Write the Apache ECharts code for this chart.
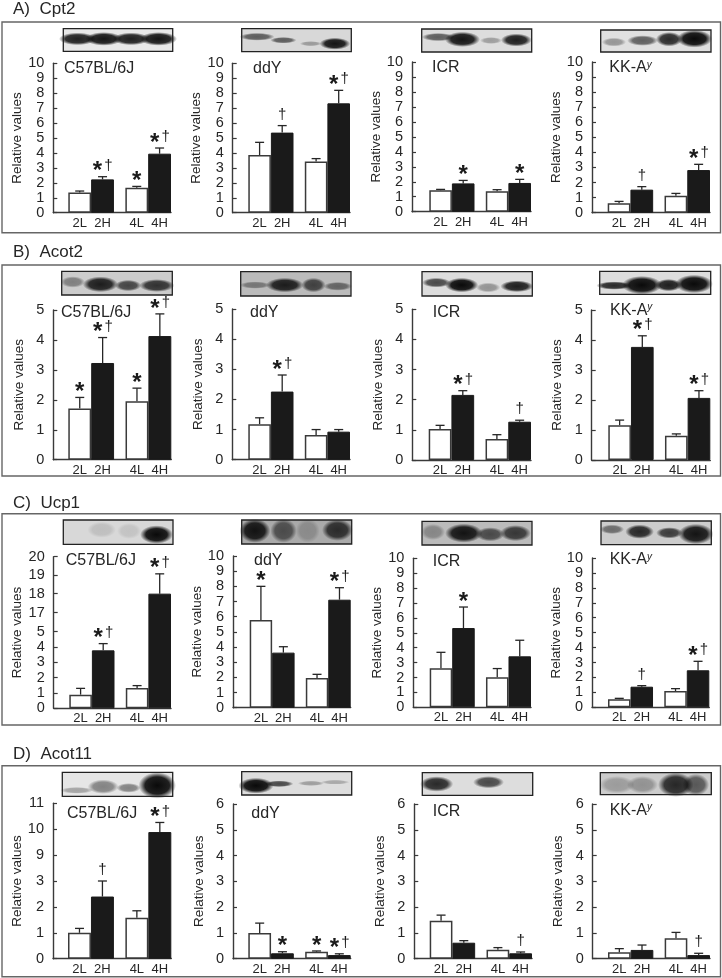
<!DOCTYPE html>
<html><head><meta charset="utf-8">
<style>html,body{margin:0;padding:0;background:#fff}#c{width:722px;height:978px}</style>
<script src="https://cdn.jsdelivr.net/npm/echarts@6/dist/echarts.min.js"></script>
</head><body><div id="c"></div>
<script>
// ---- data: tick labels
const barLabels = ['2L','2H','4L','4H'];
const ticks10 = [0,1,2,3,4,5,6,7,8,9,10];
const ticks5 = [0,1,2,3,4,5];
const ticks6 = [0,1,2,3,4,5,6];
const ticksUcpC57 = [0,1,2,3,4,5,17,18,19,20];
const posUcpC57 = [0,1,2,3,4,5,6.24,7.48,8.70,9.89];
const ticksAcotC57 = [0,1,2,3,9,10,11];
const posAcotC57 = [0,1,2,3,4,5,6];
// ---- data: means and error-bar tops, order 2L 2H 4L 4H
const cpt2_C57 = [1.36,2.23,1.67,3.95],  cpt2_C57_top = [1.45,2.41,1.76,4.33];
const cpt2_ddY = [3.86,5.36,3.42,7.32],  cpt2_ddY_top = [4.71,5.83,3.62,8.19];
const cpt2_ICR = [1.43,1.89,1.36,1.92],  cpt2_ICR_top = [1.49,2.09,1.47,2.16];
const cpt2_KK  = [0.62,1.53,1.13,2.83],  cpt2_KK_top  = [0.75,1.73,1.28,3.21];
const acot2_C57 = [1.71,3.23,1.95,4.13], acot2_C57_top = [2.08,4.08,2.39,4.87];
const acot2_ddY = [1.18,2.26,0.82,0.93], acot2_ddY_top = [1.39,2.81,1.00,1.00];
const acot2_ICR = [1.03,2.16,0.70,1.27], acot2_ICR_top = [1.15,2.30,0.84,1.32];
const acot2_KK  = [1.16,3.77,0.81,2.07], acot2_KK_top  = [1.33,4.14,0.87,2.31];
const ucp1_C57 = [0.89,3.78,1.33,18.0],  ucp1_C57_top = [1.30,4.22,1.48,19.06];
const ucp1_ddY = [5.78,3.63,1.96,7.12],  ucp1_ddY_top = [8.00,4.02,2.20,7.91];
const ucp1_ICR = [2.62,5.32,2.01,3.42],  ucp1_ICR_top = [3.69,6.73,2.60,4.50];
const ucp1_KK  = [0.54,1.38,1.09,2.48],  ucp1_KK_top  = [0.60,1.45,1.25,3.08];
const acot11_C57 = [1.00,2.40,1.58,9.89], acot11_C57_top = [1.17,3.00,1.85,10.26];
const acot11_ddY = [1.00,0.21,0.27,0.14], acot11_ddY_top = [1.38,0.27,0.30,0.19];
const acot11_ICR = [1.47,0.62,0.35,0.21], acot11_ICR_top = [1.69,0.70,0.43,0.26];
const acot11_KK  = [0.25,0.34,0.79,0.14], acot11_KK_top  = [0.39,0.53,1.02,0.21];
// ---- significance marks
const cpt2_marks = [['','*†','*','*†'],['','†','','*†'],['','*','','*'],['','†','','*†']];
const acot2_marks = [['*','*†','*','*†'],['','*†','',''],['','*†','','†'],['','*†','','*†']];
const ucp1_marks = [['','*†','','*†'],['*','','','*†'],['','*','',''],['','†','','*†']];
const acot11_marks = [['','†','','*†'],['','*','*','*†'],['','','','†'],['','','','†']];
const strains = ['C57BL/6J','ddY','ICR','KK-A'];

// ---- western-blot band decoration: [cx, cy, halfW, halfH, alpha] as fractions of the blot
const blots = [
 ['#e8e8e8',[[.13,.45,.17,.28,.9],[.37,.45,.17,.3,.95],[.62,.45,.17,.28,.9],[.87,.45,.17,.3,.95]]],
 ['#d8d8d8',[[.14,.35,.16,.17,.6],[.38,.5,.12,.14,.6],[.63,.65,.1,.11,.3],[.85,.65,.14,.26,.95]]],
 ['#dddddd',[[.15,.35,.15,.18,.6],[.37,.45,.16,.33,.95],[.63,.5,.1,.15,.3],[.86,.48,.14,.28,.9]]],
 ['#e0e0e0',[[.12,.55,.11,.2,.35],[.38,.48,.14,.24,.6],[.62,.42,.12,.33,.85],[.85,.4,.16,.4,1]]],
 ['#cccccc',[[.1,.45,.11,.24,.4],[.35,.55,.16,.33,.9],[.6,.6,.12,.24,.7],[.86,.6,.16,.27,.8]]],
 ['#bbbbbb',[[.13,.55,.14,.15,.4],[.4,.55,.17,.3,.9],[.66,.55,.11,.3,.7],[.88,.6,.13,.18,.5]]],
 ['#dddddd',[[.13,.45,.13,.2,.7],[.36,.55,.15,.3,1],[.6,.65,.11,.2,.35],[.86,.6,.15,.24,.9]]],
 ['#dddddd',[[.13,.62,.16,.18,.85],[.38,.6,.18,.4,1],[.62,.6,.12,.27,.9],[.85,.55,.17,.4,1]]],
 ['#d8d8d8',[[.35,.4,.13,.33,.12],[.6,.45,.11,.33,.1],[.85,.6,.15,.38,1]]],
 ['#aaaaaa',[[.12,.45,.14,.5,.95],[.38,.45,.12,.5,.6],[.6,.45,.11,.5,.2],[.87,.42,.14,.45,.8]]],
 ['#bbbbbb',[[.1,.45,.11,.34,.3],[.38,.5,.17,.4,.95],[.62,.55,.13,.3,.65],[.85,.5,.14,.34,.75]]],
 ['#cccccc',[[.1,.35,.11,.2,.5],[.35,.45,.13,.3,.85],[.62,.5,.12,.24,.75],[.86,.55,.16,.43,.95]]],
 ['#e6e6e6',[[.13,.75,.15,.14,.3],[.37,.6,.14,.3,.45],[.6,.65,.11,.2,.45],[.86,.55,.17,.55,1]]],
 ['#dddddd',[[.13,.6,.16,.34,1],[.34,.52,.13,.14,.7],[.63,.5,.12,.11,.3],[.85,.45,.13,.1,.25]]],
 ['#dddddd',[[.13,.5,.15,.34,.85],[.6,.42,.14,.27,.7]]],
 ['#cccccc',[[.15,.55,.16,.4,.25],[.38,.55,.14,.4,.3],[.68,.55,.16,.55,.85],[.86,.55,.12,.5,.6]]]
];

// ---- page layout (pixels)
const sections = [
 {title:'A)  Cpt2', ty:9, frame:[22,232.7], marks:cpt2_marks, panels:[
  {m:cpt2_C57,t:cpt2_C57_top,ticks:ticks10,ax:53.3,b0:68.3,b1:171,y0:212.7,yt:63.3,blot:[63.3,172.7,28.7,51.3],lx:64,ly:69},
  {m:cpt2_ddY,t:cpt2_ddY_top,ticks:ticks10,ax:232.7,b0:248.3,b1:350,y0:212.7,yt:63.3,blot:[241.7,351.3,28.7,51.7],lx:253,ly:69},
  {m:cpt2_ICR,t:cpt2_ICR_top,ticks:ticks10,ax:412,b0:429.3,b1:531,y0:211.7,yt:62,blot:[421.7,531.7,29,52],lx:432,ly:68},
  {m:cpt2_KK,t:cpt2_KK_top,ticks:ticks10,ax:592,b0:607.7,b1:710,y0:212.7,yt:62,blot:[600.7,711,30,52],lx:609.3,ly:68}]},
 {title:'B)  Acot2', ty:252.7, frame:[265,476], marks:acot2_marks, panels:[
  {m:acot2_C57,t:acot2_C57_top,ticks:ticks5,ax:53.3,b0:68.3,b1:171.3,y0:459.7,yt:310,blot:[61.7,172.3,271.3,295],lx:61,ly:312.7},
  {m:acot2_ddY,t:acot2_ddY_top,ticks:ticks5,ax:232.3,b0:248.3,b1:350,y0:459.7,yt:309,blot:[240.7,351,271.7,296],lx:250,ly:313},
  {m:acot2_ICR,t:acot2_ICR_top,ticks:ticks5,ax:412.3,b0:428.7,b1:531,y0:460,yt:309.3,blot:[422,532.3,271.7,296],lx:432.7,ly:312.3},
  {m:acot2_KK,t:acot2_KK_top,ticks:ticks5,ax:591.7,b0:608.3,b1:710.3,y0:460,yt:310,blot:[599.7,710.7,271.3,294.3],lx:610,ly:310.7}]},
 {title:'C)  Ucp1', ty:503, frame:[513.7,725], marks:ucp1_marks, panels:[
  {m:ucp1_C57,t:ucp1_C57_top,ticks:ticksUcpC57,pos:posUcpC57,ax:53.7,b0:69.3,b1:171,y0:708.3,yt:556.7,blot:[63.3,173,520,544.3],lx:65.7,ly:560.7},
  {m:ucp1_ddY,t:ucp1_ddY_top,ticks:ticks10,ax:233,b0:249.7,b1:350.7,y0:707.7,yt:556,blot:[241.7,351.7,520,544],lx:254,ly:560.7},
  {m:ucp1_ICR,t:ucp1_ICR_top,ticks:ticks10,ax:413.3,b0:429.7,b1:531,y0:707.3,yt:558.3,blot:[422,532,521.3,545],lx:432.7,ly:561.7},
  {m:ucp1_KK,t:ucp1_KK_top,ticks:ticks10,ax:592,b0:608,b1:709.3,y0:707.3,yt:558,blot:[601,711.3,521,544.7],lx:609.7,ly:560}]},
 {title:'D)  Acot11', ty:754, frame:[765.7,976.7], marks:acot11_marks, panels:[
  {m:acot11_C57,t:acot11_C57_top,ticks:ticksAcotC57,pos:posAcotC57,ax:53,b0:68,b1:171.3,y0:958.7,yt:803.3,blot:[62.3,172.7,772.3,796.3],lx:67,ly:814},
  {m:acot11_ddY,t:acot11_ddY_top,ticks:ticks6,ax:233,b0:248.3,b1:350.7,y0:958.7,yt:804,blot:[241.7,351.7,771.7,795],lx:251.3,ly:814},
  {m:acot11_ICR,t:acot11_ICR_top,ticks:ticks6,ax:414.3,b0:429.7,b1:532,y0:958.7,yt:804,blot:[422.3,532.7,772.7,795.3],lx:432.7,ly:811.3},
  {m:acot11_KK,t:acot11_KK_top,ticks:ticks6,ax:592.7,b0:608,b1:710,y0:958.7,yt:804,blot:[600.3,711.3,772.7,794.7],lx:609.7,ly:810.7}]}
];

const FONT = '"Liberation Sans", Arial, sans-serif';
const INK = '#262626', AXIS = '#3a3a3a';
const barX = [1,2,3.5,4.5];

function warp(v, ticks, pos){
  if(!pos) return v;
  for(let i=1;i<ticks.length;i++){
    if(v<=ticks[i]) return pos[i-1]+(v-ticks[i-1])/(ticks[i]-ticks[i-1])*(pos[i]-pos[i-1]);
  }
  return pos[pos.length-1];
}

const grids=[],xAxes=[],yAxes=[],series=[],graphics=[];
sections.forEach((s,si)=>{
  graphics.push({type:'rect',z:0,shape:{x:2,y:s.frame[0],width:718.5,height:s.frame[1]-s.frame[0]},
    style:{fill:'none',stroke:'#666',lineWidth:1.4},silent:true});
  graphics.push({type:'text',z:5,x:13,y:s.ty,style:{text:s.title,font:'17px '+FONT,fill:INK,textVerticalAlign:'middle'},silent:true});
  s.panels.forEach((p,pi)=>{
    const gi=grids.length, unit=(p.b1-p.b0)/4.5, xMin=0.5-(p.b0-p.ax)/unit;
    const pos=p.pos||p.ticks, W=v=>warp(v,p.ticks,p.pos);
    grids.push({left:p.ax,top:p.yt,width:p.b1-p.ax,height:p.y0-p.yt,containLabel:false});
    xAxes.push({type:'value',gridIndex:gi,min:xMin,max:5,splitLine:{show:false},
      axisLine:{show:true,onZero:false,lineStyle:{color:AXIS,width:1.4}},axisTick:{show:false},
      axisLabel:{customValues:barX,margin:4,fontFamily:FONT,fontSize:13,color:INK,hideOverlap:false,
        formatter:v=>barLabels[barX.indexOf(v)]}});
    yAxes.push({type:'value',gridIndex:gi,min:0,max:pos[pos.length-1],splitLine:{show:false},
      name:'Relative values',nameLocation:'middle',nameGap:27,
      nameTextStyle:{fontFamily:FONT,fontSize:13.5,color:INK},
      axisLine:{show:true,onZero:false,lineStyle:{color:AXIS,width:1.4}},
      axisTick:{show:true,inside:true,length:4,customValues:pos,lineStyle:{color:AXIS,width:1.2}},
      axisLabel:{customValues:pos,margin:9,fontFamily:FONT,fontSize:14.5,color:INK,hideOverlap:false,
        formatter:v=>String(p.ticks[pos.findIndex(q=>Math.abs(q-v)<1e-6)])}});
    const barBase={type:'bar',xAxisIndex:gi,yAxisIndex:gi,barWidth:unit,barGap:'-100%',animation:false,silent:true};
    series.push(Object.assign({},barBase,{name:'L',z:3,itemStyle:{color:'#fff',borderColor:'#3a3a3a',borderWidth:1.5},
      data:[[barX[0],W(p.m[0])],[barX[2],W(p.m[2])]]}));
    series.push(Object.assign({},barBase,{name:'H',z:3,itemStyle:{color:'#1a1a1a',borderColor:'#1a1a1a',borderWidth:1},
      data:[[barX[1],W(p.m[1])],[barX[3],W(p.m[3])]]}));
    // error bars
    series.push({type:'custom',xAxisIndex:gi,yAxisIndex:gi,z:2,silent:true,animation:false,
      data:barX.map((x,i)=>[x,W(p.m[i]),W(p.t[i])]),
      renderItem:(params,api)=>{
        const a=api.coord([api.value(0),api.value(1)]), b=api.coord([api.value(0),api.value(2)]);
        const st={stroke:'#262626',lineWidth:1.3,fill:'none'};
        return {type:'group',children:[
          {type:'line',shape:{x1:a[0],y1:a[1],x2:b[0],y2:b[1]},style:st},
          {type:'line',shape:{x1:b[0]-4.5,y1:b[1],x2:b[0]+4.5,y2:b[1]},style:st}]};
      }});
    // significance marks
    const marks=s.marks[pi];
    series.push({type:'custom',xAxisIndex:gi,yAxisIndex:gi,z:4,silent:true,animation:false,clip:false,
      data:barX.map((x,i)=>[x,W(p.t[i])]),
      renderItem:(params,api)=>{
        const m=marks[params.dataIndex]; if(!m) return {type:'group',children:[]};
        const c=api.coord([api.value(0),api.value(1)]), kids=[];
        const star=(x)=>({type:'text',x:x,y:c[1]-5,style:{text:'*',font:'bold 24px '+FONT,fill:'#1a1a1a',textAlign:'center',textVerticalAlign:'middle'}});
        const dag=(x)=>({type:'text',x:x,y:c[1]-11,style:{text:'†',font:'15px '+FONT,fill:'#1a1a1a',textAlign:'center',textVerticalAlign:'middle'}});
        if(m==='*') kids.push(star(c[0]));
        else if(m==='†') kids.push(dag(c[0]));
        else {kids.push(star(c[0]-5));kids.push(dag(c[0]+6));}
        return {type:'group',children:kids};
      }});
    // strain label
    const isKK=pi===3;
    graphics.push({type:'text',z:5,x:p.lx,y:p.ly,silent:true,style:{
      text:isKK?'{a|'+strains[pi]+'}{y|y}':strains[pi],
      font:'16px '+FONT,fill:INK,textVerticalAlign:'middle',
      rich:isKK?{a:{font:'16px '+FONT,fill:INK},y:{font:'italic 10px '+FONT,fill:INK,padding:[0,0,6,0]}}:undefined}});
    // blot image stand-in
    const B=blots[si*4+pi], w=p.blot[1]-p.blot[0], h=p.blot[3]-p.blot[2];
    const kids=[{type:'rect',shape:{x:0,y:0,width:w,height:h},style:{fill:B[0]}}];
    B[1].forEach(b=>{
      kids.push({type:'circle',shape:{cx:0,cy:0,r:10},x:b[0]*w,y:b[1]*h,scaleX:b[2]*w/10,scaleY:b[3]*h/10,
        style:{fill:{type:'radial',x:.5,y:.5,r:.5,colorStops:[
          {offset:0,color:'rgba(10,10,10,'+b[4]+')'},{offset:.65,color:'rgba(10,10,10,'+b[4]*0.9+')'},{offset:1,color:'rgba(10,10,10,0)'}]}}});
    });
    kids.push({type:'rect',shape:{x:0,y:0,width:w,height:h},style:{fill:'none',stroke:'#222',lineWidth:1.3}});
    graphics.push({type:'group',x:p.blot[0],y:p.blot[2],z:1,silent:true,children:kids});
  });
});

const chart=echarts.init(document.getElementById('c'),null,{renderer:'canvas'});
chart.setOption({animation:false,backgroundColor:'#fff',grid:grids,xAxis:xAxes,yAxis:yAxes,series:series,graphic:{elements:graphics}});
</script></body></html>
